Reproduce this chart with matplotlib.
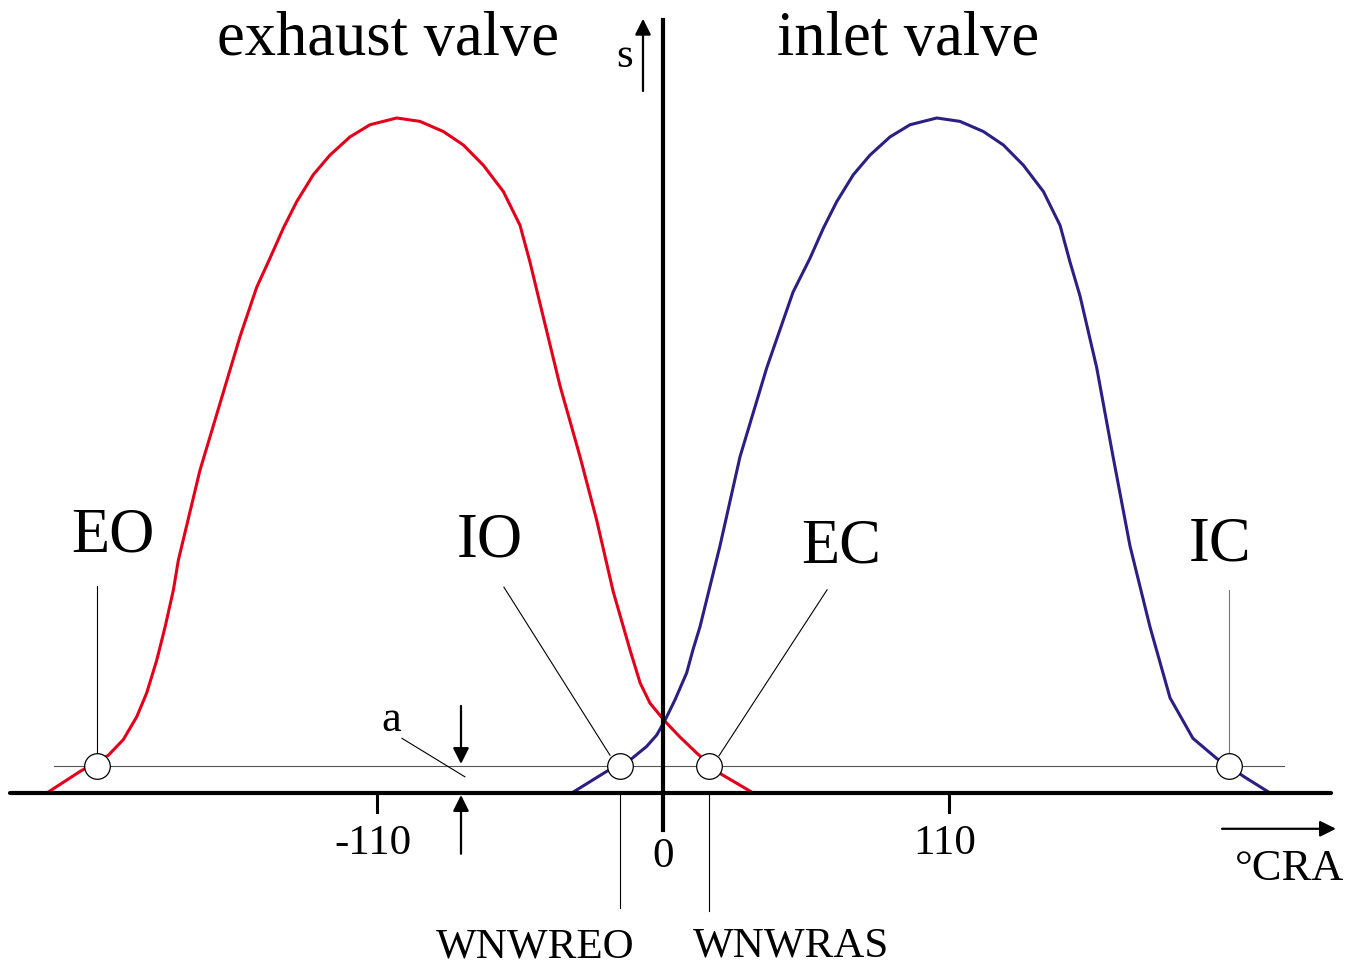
import matplotlib
matplotlib.use("Agg")
import matplotlib.pyplot as plt

plt.rcParams['font.family'] = ['Liberation Serif', 'DejaVu Serif']

# valve lift curves, crank angle (deg CRA) vs normalised lift
exh_deg = [-237.0, -224.2, -213.3, -207.6, -202.4, -198.6, -194.7, -191.5, -188.3,
           -186.4, -178.1, -170.4, -162.7, -156.3, -151.2, -146.0, -140.9, -134.5,
           -128.1, -120.4, -112.7, -102.4, -93.5, -84.5, -76.8, -69.1, -61.4,
           -55.0, -51.2, -47.3, -39.6, -31.9, -25.5, -19.2, -12.7, -8.8, -5.0,
           0.8, 6.5, 13.0, 21.9, 34.7]
exh_lift = [0.0, 0.032, 0.056, 0.079, 0.113, 0.148, 0.197, 0.246, 0.301,
            0.345, 0.478, 0.577, 0.676, 0.749, 0.792, 0.837, 0.876, 0.916,
            0.945, 0.972, 0.990, 1.0, 0.995, 0.980, 0.960, 0.930, 0.891,
            0.841, 0.787, 0.725, 0.603, 0.498, 0.404, 0.299, 0.212, 0.163, 0.133,
            0.106, 0.083, 0.059, 0.029, 0.0]

inl_deg = [-35.1, -21.7, -12.0, -6.3, -2.4, 0.8, 4.6, 9.1, 11.5, 14.2, 21.9,
           29.6, 39.9, 50.0, 56.5, 61.7, 66.8, 73.2, 79.6, 87.3, 95.0, 105.3,
           114.2, 123.2, 130.9, 138.6, 146.3, 152.7, 156.5, 160.4, 166.8, 173.1,
           179.6, 187.3, 195.0, 203.8, 213.0, 217.7, 223.1, 233.5]
inl_lift = [0.0, 0.032, 0.051, 0.069, 0.086, 0.108, 0.138, 0.178, 0.212, 0.246, 0.366,
            0.498, 0.630, 0.742, 0.792, 0.837, 0.876, 0.916, 0.945, 0.972, 0.990, 1.0,
            0.995, 0.980, 0.960, 0.930, 0.891, 0.841, 0.787, 0.736, 0.630, 0.498,
            0.366, 0.246, 0.141, 0.081, 0.051, 0.040, 0.025, 0.0]

# valve events where the lift crosses the threshold a
threshold = 0.04
event_names = ['EO', 'IO', 'EC', 'IC']
event_deg = [-217.7, -16.5, 17.7, 217.7]

tick_vals = [-110, 0, 110]

fig = plt.figure(figsize=(13.51, 9.65), dpi=100)
ax = fig.add_axes([0, 0, 1, 1])
ax.set_xlim(-255.0, 264.6)
ax.set_ylim(-0.2548, 1.1748)
ax.axis('off')

red = '#e3001b'
blue = '#2b1f84'

ax.plot(exh_deg, exh_lift, color=red, lw=2.2, zorder=3, solid_joinstyle='round')
ax.plot(inl_deg, inl_lift, color=blue, lw=2.2, zorder=3, solid_joinstyle='round')

# axes
ax.plot([-251, 257], [0, 0], color='k', lw=3.0, solid_capstyle='round', zorder=4)
ax.plot([0, 0], [-0.055, 1.145], color='k', lw=3.0, zorder=4)
ax.plot([-234.2, 238.8], [threshold, threshold], color='#555555', lw=0.8, zorder=2)

# ticks and labels
for v in tick_vals:
    if v != 0:
        ax.plot([v, v], [0, -0.028], color='k', lw=2.2, zorder=4)
        ax.text(v - 1.5, -0.090, str(v), ha='center', va='baseline', fontsize=31)
    else:
        ax.text(v, -0.109, str(v), ha='center', va='baseline', fontsize=31)

# event circles
ax.scatter(event_deg, [threshold] * len(event_deg), s=340, facecolor='white',
           edgecolor='k', linewidth=0.9, zorder=5)

# leader lines
ax.plot([-217.7, -217.7], [0.307, 0.059], color='k', lw=0.8)
ax.plot([-61.2, -20.4], [0.305, 0.056], color='k', lw=0.8)
ax.plot([63.1, 21.5], [0.301, 0.055], color='k', lw=0.8)
ax.plot([217.7, 217.7], [0.301, 0.059], color='#777777', lw=0.8)
ax.plot([-16.5, -16.5], [-0.003, -0.170], color='k', lw=0.8)
ax.plot([17.7, 17.7], [-0.003, -0.175], color='k', lw=0.8)
ax.plot([-100.4, -76.2], [0.081, 0.024], color='k', lw=0.8)

ev_text = {'EO': (-211.5, 0.3585), 'IO': (-66.5, 0.351), 'EC': (68.5, 0.342), 'IC': (214.2, 0.344)}
for name in event_names:
    x, y = ev_text[name]
    ax.text(x, y, name, ha='center', va='baseline', fontsize=45)

ax.text(-105.8, 1.093, 'exhaust valve', ha='center', va='baseline', fontsize=45)
ax.text(94.2, 1.093, 'inlet valve', ha='center', va='baseline', fontsize=45)

# arrows
arr = dict(arrowstyle='-|>', mutation_scale=24, lw=1.6, color='k', shrinkA=0, shrinkB=0)
ax.annotate('', xy=(-7.7, 1.147), xytext=(-7.7, 1.04), arrowprops=arr)
ax.text(-14.6, 1.076, 's', ha='center', va='baseline', fontsize=31)

ax.annotate('', xy=(-77.7, 0.043), xytext=(-77.7, 0.129), arrowprops=arr)
ax.annotate('', xy=(-77.7, -0.003), xytext=(-77.7, -0.09), arrowprops=arr)
ax.text(-104.6, 0.092, 'a', ha='center', va='baseline', fontsize=32)

ax.annotate('', xy=(258.8, -0.053), xytext=(215.0, -0.053), arrowprops=arr)
ax.text(241.0, -0.129, '°CRA', ha='center', va='baseline', fontsize=32)

ax.text(-49.2, -0.244, 'WNWREO', ha='center', va='baseline', fontsize=31)
ax.text(49.4, -0.2425, 'WNWRAS', ha='center', va='baseline', fontsize=31)

fig.savefig('out.png', dpi=100, facecolor='white')
